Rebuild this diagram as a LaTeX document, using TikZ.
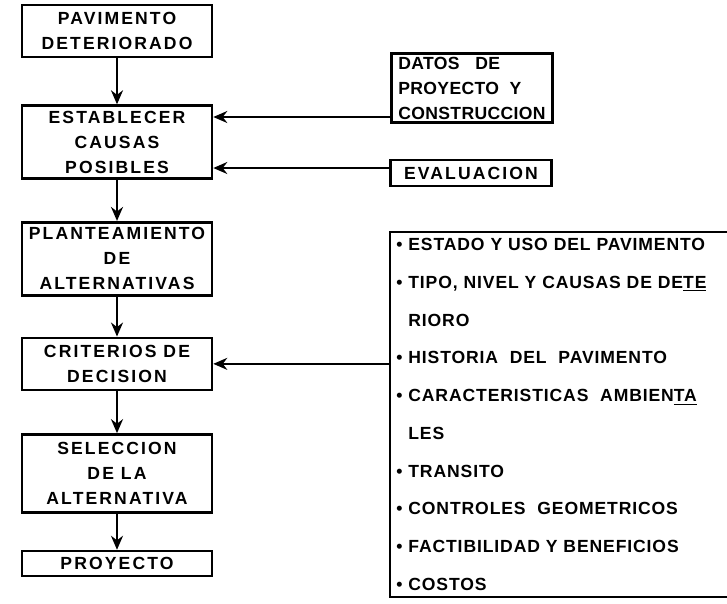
\documentclass[tikz,border=0pt]{standalone}
\usepackage{fontspec}
\setmainfont{Liberation Sans}
\newfontfamily\boxfont[LetterSpace=12]{Liberation Sans}
\newfontfamily\listfont[LetterSpace=5]{Liberation Sans}
\newfontfamily\datosfont[LetterSpace=2]{Liberation Sans}
\usetikzlibrary{arrows.meta,positioning,calc}

\begin{document}
\begin{tikzpicture}[
  x=0.02cm, y=-0.02cm,
  >={Stealth[length=2.8mm,width=2.4mm]},
  font=\boxfont\bfseries\fontsize{10}{14.2}\selectfont,
  block/.style={
    draw,
    align=center,
    minimum width=3.8cm,
    line width=1.5pt,
    inner sep=2pt
  },
  side/.style={block, minimum width=3.22cm},
  listbox/.style={
    font=\listfont\bfseries\fontsize{10}{21.5}\selectfont,
    align=left,
    text width=6.5cm,
    inner xsep=0.12cm,
    minimum height=7.28cm
  },
  flow/.style={->, line width=1.2pt},
  frame/.style={line width=1.5pt}
]
\useasboundingbox (0,0) rectangle (727,603);

% ========== Main chain (left) ==========
\node[block, minimum height=1.04cm] (pav) at (117,31) {PAVIMENTO\\DETERIORADO};
\node[block, minimum height=1.46cm, below=0.92cm of pav] (causas) {ESTABLECER\\CAUSAS\\POSIBLES};
\node[block, minimum height=1.46cm, below=0.82cm of causas] (altern) {PLANTEAMIENTO\\DE\\ALTERNATIVAS};
\node[block, minimum height=1.04cm, below=0.80cm of altern] (criter) {CRITERIOS DE\\DECISION};
\node[block, minimum height=1.56cm, below=0.84cm of criter] (selec) {SELECCION\\DE LA\\ALTERNATIVA};
\node[block, minimum height=0.5cm, below=0.72cm of selec] (proy) {PROYECTO};

\draw[flow] (pav) -- (causas);
\draw[flow] (causas) -- (altern);
\draw[flow] (altern) -- (criter);
\draw[flow] (criter) -- (selec);
\draw[flow] (selec) -- (proy);

% ========== Inputs (right) ==========
\node[side, minimum height=1.3cm, font=\datosfont\bfseries\fontsize{10}{14.2}\selectfont, align=left] (datos) at (472,88) {DATOS\ \ \ DE\\PROYECTO\ \ Y\\CONSTRUCCION};
\node[side, minimum height=0.52cm] (evalua) at (471,173) {EVALUACION};

\coordinate (datos-out) at ($(datos.west)+(0,29)$);
\coordinate (evalua-out) at ($(evalua.west)+(0,-5)$);
\draw[flow] (datos-out) -- (datos-out -| causas.east);
\draw[flow] (evalua-out) -- (evalua-out -| causas.east);

% ========== Decision factors ==========
\node[listbox, anchor=north west] (factores) at (390,232) {%
  • ESTADO Y USO DEL PAVIMENTO\\
  • TIPO, NIVEL Y CAUSAS DE DE\underline{TE}\\
  \phantom{• }RIORO\\
  • HISTORIA\ \ DEL\ \ PAVIMENTO\\
  • CARACTERISTICAS\ \ AMBIEN\underline{TA}\\
  \phantom{• }LES\\
  • TRANSITO\\
  • CONTROLES\ \ GEOMETRICOS\\
  • FACTIBILIDAD Y BENEFICIOS\\
  • COSTOS};
\draw[frame] (factores.north east) -- (factores.north west) -- (factores.south west) -- (factores.south east);

\draw[flow] (criter.east -| factores.west) -- (criter.east);

\end{tikzpicture}
\end{document}
